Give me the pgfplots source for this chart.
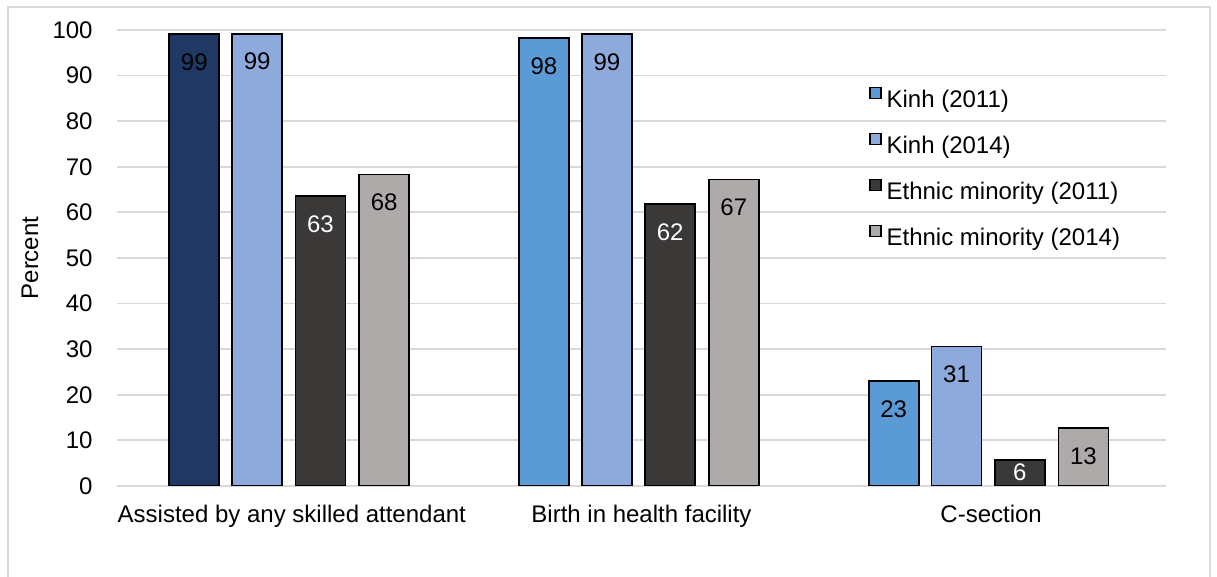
\documentclass[border=0pt]{standalone}
\usepackage{fontspec}
\setmainfont{Liberation Sans}
\usepackage{pgfplots}
\pgfplotsset{compat=1.18}
\definecolor{navy}{HTML}{203864}
\definecolor{kinhA}{HTML}{5B9BD5}
\definecolor{kinhB}{HTML}{8EA9DB}
\definecolor{ethA}{HTML}{3B3838}
\definecolor{ethB}{HTML}{AEAAAA}
\definecolor{gridgrey}{HTML}{D9D9D9}
\definecolor{axisgrey}{HTML}{595959}
\definecolor{bordergrey}{HTML}{D9D9D9}
\begin{document}
\begin{tikzpicture}
\useasboundingbox (-58.5pt,-45.5pt) rectangle (550pt,243pt);
\fill[white] (-58.5pt,-45.5pt) rectangle (550pt,243pt);
\draw[color=bordergrey, line width=0.9pt] (-54.5pt,-47pt) -- (-54.5pt,239.5pt) -- (546.5pt,239.5pt) -- (546.5pt,-47pt);
\begin{axis}[
  at={(0,0)}, anchor=south west, scale only axis,
  width=524.5pt, height=228pt,
  xmin=-0.5, xmax=2.5, ymin=0, ymax=100,
  ytick={0,10,...,100},
  xtick={0,1,2},
  xticklabels={Assisted by any skilled attendant, Birth in health facility, C-section},
  axis line style={draw=none},
  major tick length=0pt,
  ymajorgrids,
  major grid style={color=gridgrey, line width=0.9pt},
  extra y ticks={0}, extra y tick labels={},
  extra y tick style={grid style={color=axisgrey, line width=1.2pt}},
  /pgf/number format/assume math mode=true,
  tick label style={font=\fontsize{12}{14}\selectfont, color=black},
  yticklabel style={inner sep=0pt, xshift=-12pt},
  xticklabel style={inner sep=0pt, yshift=-9.5pt},
  ylabel={Percent},
  every axis y label/.style={at={(axis description cs:0,0.5)}, xshift=-43.5pt, rotate=90, anchor=center, font=\fontsize{12}{14}\selectfont},
  ybar, bar width=0.143,
  point meta=explicit symbolic,
  nodes near coords,
  every node near coord/.append style={font=\fontsize{12}{14}\selectfont, anchor=center, yshift=-14pt, color=black},
  legend cell align=left,
  legend style={draw=none, fill=none, at={(0.7169,0.8756)}, anchor=north west,
    inner sep=0pt, row sep=10pt, column sep=2.5pt,
    nodes={inner sep=0pt, text height=8.5pt, text depth=2.5pt, font=\fontsize{12}{14}\selectfont}},
  legend image code/.code={\draw[#1, draw=black, line width=0.6pt] (0pt,1.6pt) rectangle (5.5pt,7.1pt);},
]
\addplot[fill=navy, draw=black, line width=0.9pt, bar shift=-0.279, forget plot] coordinates {(0,99.1) [99]};
\addplot[fill=kinhA, draw=black, line width=0.9pt, bar shift=-0.279] coordinates {(1,98.3) [98] (2,23.0) [23]};
\addplot[fill=kinhB, draw=black, line width=0.9pt, bar shift=-0.099] coordinates {(0,99.2) [99] (1,99.1) [99] (2,30.6) [31]};
\addplot[fill=ethA, draw=black, line width=0.9pt, bar shift=0.082, every node near coord/.append style={color=white}] coordinates {(0,63.6) [63] (1,61.8) [62]};
\addplot[fill=ethB, draw=black, line width=0.9pt, bar shift=0.264] coordinates {(0,68.3) [68] (1,67.2) [67] (2,12.7) [13]};
\addplot[fill=ethA, draw=black, line width=0.9pt, bar shift=0.082, forget plot, every node near coord/.append style={color=white, yshift=8pt}] coordinates {(2,5.7) [6]};
\legend{Kinh (2011), Kinh (2014), Ethnic minority (2011), Ethnic minority (2014)}
\end{axis}
\end{tikzpicture}
\end{document}
